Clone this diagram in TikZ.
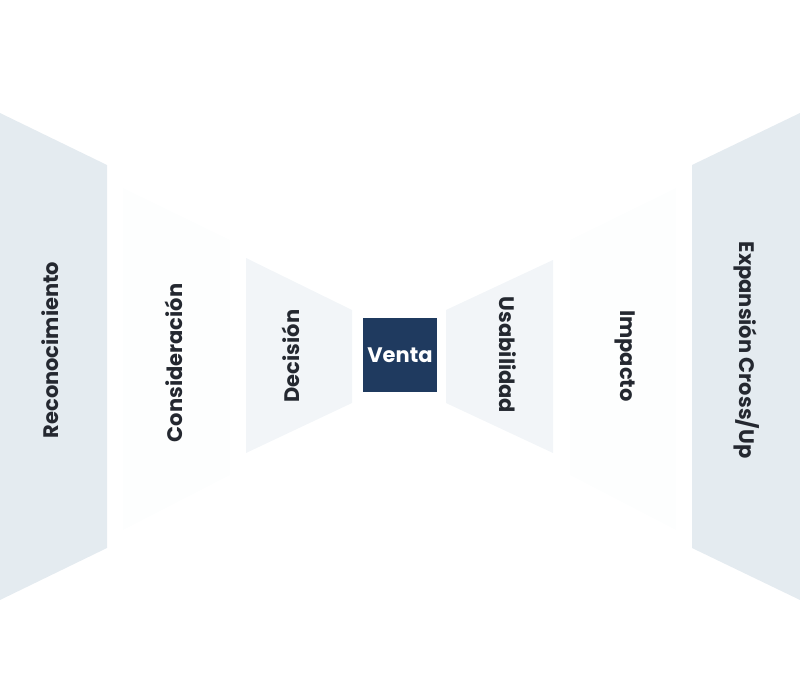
\documentclass[tikz,border=0pt]{standalone}
\usepackage{fontspec}
\setmainfont{Poppins}
\definecolor{lgray}{RGB}{228,235,240}
\definecolor{lblue}{RGB}{242,245,248}
\definecolor{faint}{RGB}{253,254,254}
\definecolor{navy}{RGB}{31,58,95}
\definecolor{ink}{RGB}{36,40,48}
\tikzset{
      stage/.style={font=\bfseries\fontsize{21}{24}\selectfont, text=ink},
      panel/.style={draw=none},
}
\begin{document}
\begin{tikzpicture}[x=1pt,y=-1pt]
        \useasboundingbox (0,0) rectangle (800,700);

        \fill[lgray] (0,113) -- (107,165) -- (107,548) -- (0,600) -- cycle ;
        \fill[faint] (123,188) -- (230,240) -- (230,475) -- (123,530) -- cycle ;
        \fill[lblue] (246,258) -- (352,310) -- (352,403) -- (246,453) -- cycle ;
        \fill[lblue] (446,310) -- (553,260) -- (553,453) -- (446,403) -- cycle ;
        \fill[faint] (570,240) -- (676,188) -- (676,530) -- (570,475) -- cycle ;
        \fill[lgray] (692,165) -- (800,113) -- (800,600) -- (692,548) -- cycle ;

        \node[stage,rotate=90] (recon) at (50,350) {Reconocimiento} ;
        \node[stage,rotate=90] (consid) at (174,363) {Consideración} ;
        \node[stage,rotate=90] (decis) at (291,356) {Decisión} ;
        \node[fill=navy, minimum size=74, text=white, font=\bfseries\fontsize{21}{24}\selectfont] (venta) at (400,355) {Venta} ;
        \node[stage,rotate=-90] (usab) at (508,355) {Usabilidad} ;
        \node[stage,rotate=-90] (impac) at (625,356) {Impacto} ;
        \node[stage,rotate=-90] (expan) at (747,350) {Expansión Cross/Up} ;

\end{tikzpicture}
\end{document}
